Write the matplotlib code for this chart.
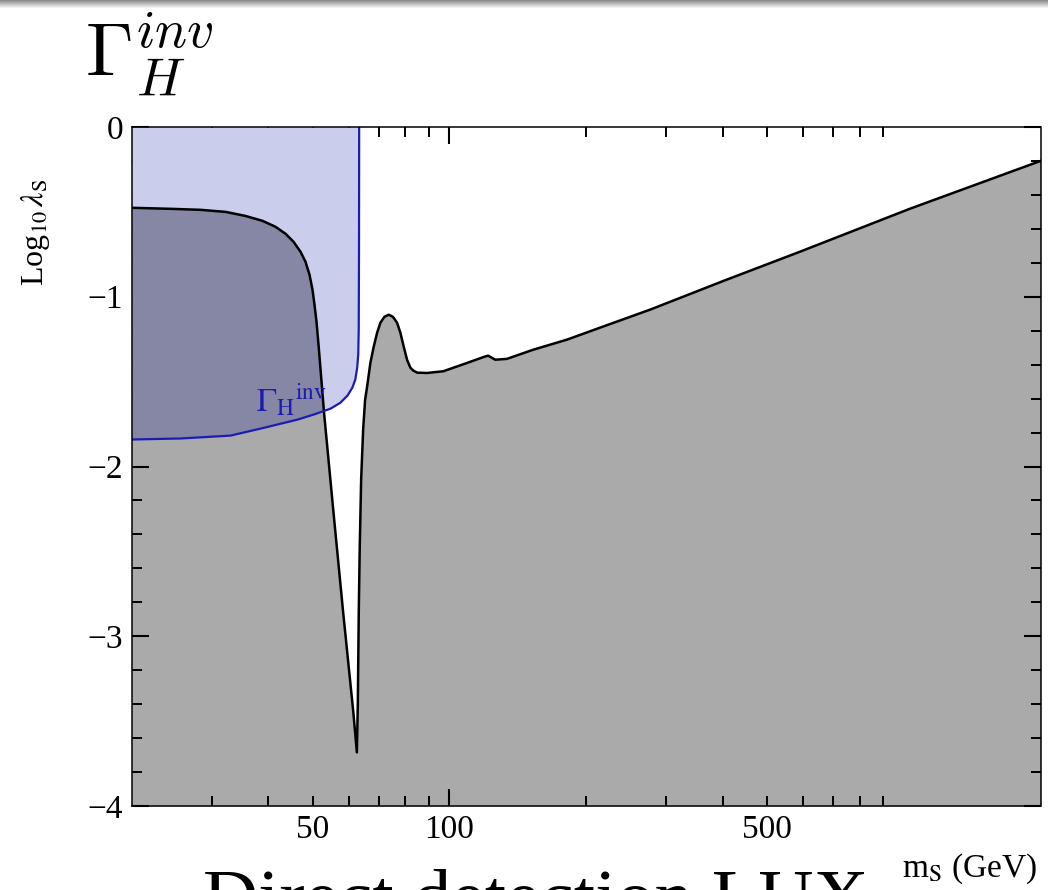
import numpy as np
import matplotlib
matplotlib.use("Agg")
import matplotlib.pyplot as plt
from matplotlib.ticker import FixedLocator, FuncFormatter, NullFormatter

# ---------------- data ----------------
# combined exclusion boundary (grey region below it), m_S in GeV vs log10(lambda_S)
ms_excl = [20, 24.37, 28.36, 32.19, 35.61, 38.82, 41.46, 43.61, 45.41, 47.05,
           48.26, 49.25, 50.0, 50.5, 51.02, 51.54, 53.0, 55.6, 58.4, 61.5, 62.6,
           62.9, 63.2, 63.52, 63.97, 64.62, 65.27, 65.94, 67.05, 68.18, 69.36,
           70.53, 71.97, 73.56, 75.13, 76.74, 78.04, 79.34, 80.72, 82.1, 83.34,
           84.95, 89.35, 97.0, 109.4, 119.0, 121.8, 126.2, 133.9, 153.0, 181.4,
           214.7, 276.6, 400, 590.7, 1031, 2000]
loglam_excl = [-0.476, -0.482, -0.488, -0.500, -0.524, -0.553, -0.588, -0.629,
               -0.676, -0.735, -0.794, -0.871, -0.959, -1.047, -1.147, -1.282,
               -1.682, -2.27, -2.86, -3.45, -3.684, -3.40, -2.86, -2.47, -2.076,
               -1.782, -1.606, -1.529, -1.388, -1.294, -1.212, -1.153, -1.118,
               -1.106, -1.118, -1.153, -1.212, -1.292, -1.371, -1.418, -1.435,
               -1.447, -1.449, -1.439, -1.39, -1.355, -1.347, -1.371, -1.366,
               -1.312, -1.253, -1.182, -1.076, -0.908, -0.735, -0.482, -0.200]

# invisible Higgs width bound (blue region above it)
ms_inv = [20, 25.64, 33.0, 39.1, 46.3, 50.3, 54.8, 57.6, 59.7, 61.2, 62.1, 62.7,
          63.03, 63.19, 63.28, 63.33]
loglam_inv = [-1.841, -1.835, -1.818, -1.772, -1.724, -1.694, -1.659, -1.624,
              -1.582, -1.535, -1.488, -1.418, -1.341, -1.194, -0.724, 0.0]

x_labelled = [50, 100, 500]
x_long_ticks = [100]
x_short_ticks = [30, 40, 50, 60, 70, 80, 90, 200, 300, 400, 500, 600, 700, 800, 900]
y_major = [0, -1, -2, -3, -4]
y_minor = [-0.2, -0.4, -0.6, -0.8, -1.2, -1.4, -1.6, -1.8, -2.2, -2.4, -2.6, -2.8,
           -3.2, -3.4, -3.6, -3.8]

# ---------------- style ----------------
plt.rcParams['font.family'] = ['Liberation Serif', 'DejaVu Serif']
plt.rcParams['mathtext.fontset'] = 'stix'

W, H = 1048, 890
fig = plt.figure(figsize=(W / 100, H / 100), dpi=100)

ax_l, ax_r, ax_t, ax_b = 131.7, 1040.5, 127, 806
ax = fig.add_axes([ax_l / W, (H - ax_b) / H, (ax_r - ax_l) / W, (ax_b - ax_t) / H])

GREY = '#aaaaaa'
LBLUE = '#cbcdec'
DARK = '#8587a5'
BLUE = '#1c1cb4'

ax.fill_between(ms_excl, loglam_excl, -4, color=GREY, lw=0, zorder=1)
blue_fill = ax.fill_between(ms_inv, loglam_inv, 0, color=LBLUE, lw=0, zorder=2)
dark = ax.fill_between(ms_excl, loglam_excl, -4, color=DARK, lw=0, zorder=3)
dark.set_clip_path(blue_fill.get_paths()[0], ax.transData)

ax.plot(ms_excl, loglam_excl, color='black', lw=1.8, zorder=5,
        solid_joinstyle='round')
ax.plot(ms_inv, loglam_inv, color=BLUE, lw=1.6, zorder=6, solid_joinstyle='round')

ax.text(37.5, -1.676, r"$\Gamma_{\rm H}{}^{\rm inv}$", color=BLUE, fontsize=24,
        ha='left', va='baseline', zorder=7)

ax.set_xscale('log')
ax.set_xlim(20, 2000)
ax.set_ylim(-4, 0)

ax.xaxis.set_major_locator(FixedLocator(x_long_ticks))
ax.xaxis.set_minor_locator(FixedLocator(x_short_ticks))
lab = lambda v, p: (f"{v:g}" if any(abs(v - t) < 1e-6 for t in x_labelled) else "")
ax.xaxis.set_major_formatter(FuncFormatter(lab))
ax.xaxis.set_minor_formatter(FuncFormatter(lab))

ax.yaxis.set_major_locator(FixedLocator(y_major))
ax.yaxis.set_minor_locator(FixedLocator(y_minor))
ax.yaxis.set_major_formatter(FuncFormatter(lambda v, p: f"{int(v)}".replace('-', '\u2212')))
ax.yaxis.set_minor_formatter(NullFormatter())

ax.tick_params(which='both', direction='in', top=True, right=True,
               labelsize=24, colors='black')
ax.tick_params(which='major', length=12, width=1.5, pad=6)
ax.tick_params(which='minor', length=7, width=1.4, pad=6)
for s in ax.spines.values():
    s.set_linewidth(1.1)
    s.set_zorder(10)

# axis labels
fig.text(35 / W, 1 - 232 / H, r"Log$_{10}\,\lambda_{\rm S}$", rotation=90,
         ha='center', va='center', fontsize=23)
fig.text(1037 / W, 1 - 877 / H, r"m$_{\rm S}$ (GeV)", ha='right', va='baseline',
         fontsize=24)

# slide texts
fig.text(85 / W, 1 - 77 / H, r"$\Gamma_H^{inv}$", fontsize=55, math_fontfamily='cm',
         ha='left', va='baseline')
fig.text(203 / W, 1 - 922 / H, "Direct detection LUX", fontsize=55,
         ha='left', va='baseline')

# top shadow bar of the screenshot
bar = fig.add_axes([0, 1 - 9 / H, 1, 9 / H])
grad = np.linspace(0.55, 1.0, 9).reshape(-1, 1)
bar.imshow(grad, aspect='auto', cmap='gray', vmin=0, vmax=1)
bar.axis('off')

fig.savefig('out.png', dpi=100)
